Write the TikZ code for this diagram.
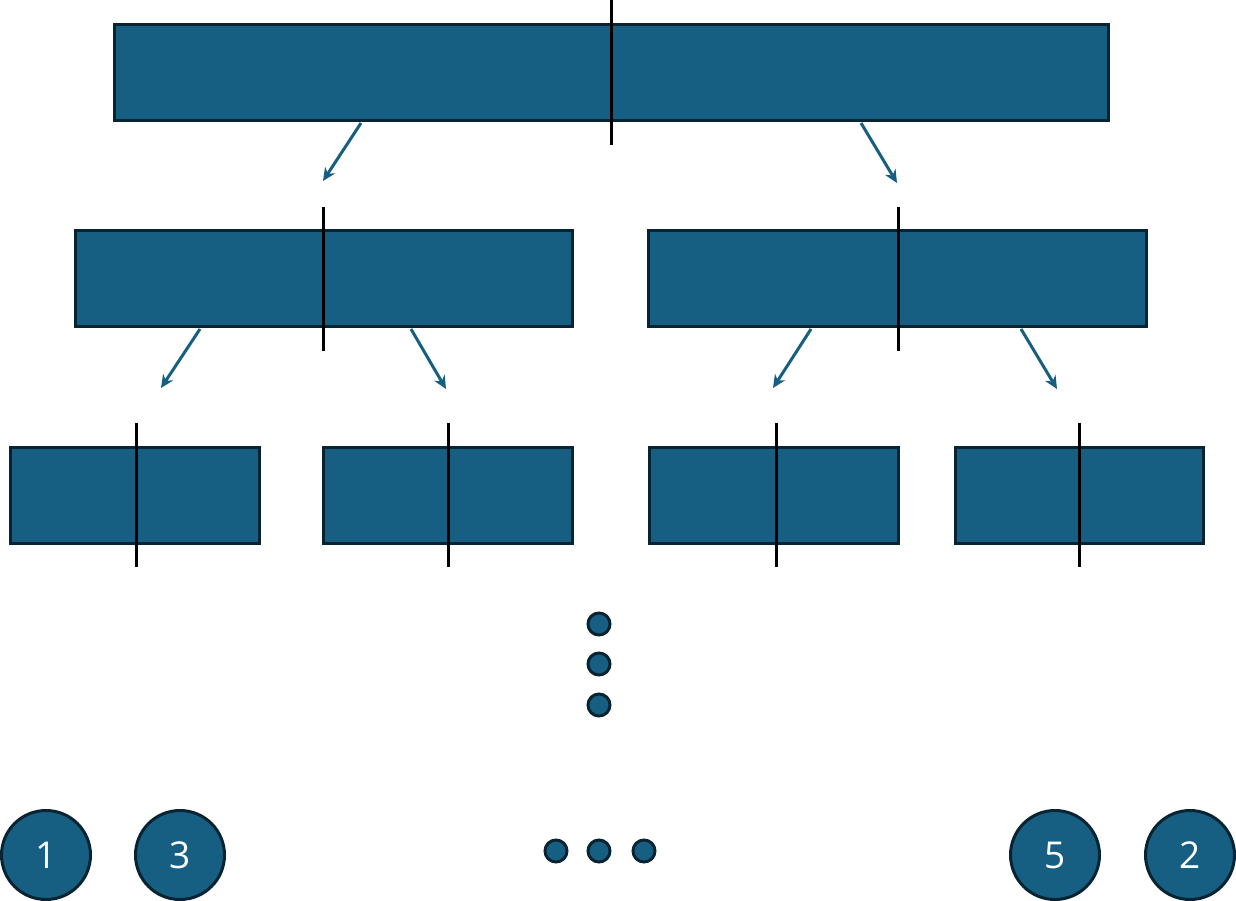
\documentclass[tikz,border=0pt]{standalone}
\usepackage{fontspec}
\setmainfont{Open Sans}
\usetikzlibrary{arrows.meta}
\definecolor{boxfill}{RGB}{23,95,130}
\definecolor{boxedge}{RGB}{8,36,50}
\begin{document}
\begin{tikzpicture}[x=1pt,y=-1pt,
  blk/.style={draw=boxedge,fill=boxfill,line width=3pt},
  divider/.style={draw=black,line width=3pt},
  arr/.style={draw=boxfill,line width=3pt,-{Stealth[length=13pt,width=12pt]}},
  dotnode/.style={circle,draw=boxedge,fill=boxfill,line width=3pt,minimum size=22pt,inner sep=0pt},
  leaf/.style={circle,draw=boxedge,fill=boxfill,line width=3pt,minimum size=89pt,inner sep=0pt,text=white,font=\fontsize{37}{40}\selectfont}]
\useasboundingbox (0,0) rectangle (1236,901);
% boxes
\path[blk] (114,25) rectangle (1108,121);
\path[blk] (75,231) rectangle (572,326);
\path[blk] (648,231) rectangle (1146,326);
\path[blk] (10,447) rectangle (259,543);
\path[blk] (323,447) rectangle (572,543);
\path[blk] (649,447) rectangle (898,543);
\path[blk] (955,447) rectangle (1203,543);
% dividers
\draw[divider] (611,0) -- (611,145);
\draw[divider] (323,207) -- (323,351);
\draw[divider] (898,207) -- (898,351);
\draw[divider] (136,423) -- (136,567);
\draw[divider] (448,423) -- (448,567);
\draw[divider] (776,423) -- (776,567);
\draw[divider] (1079,423) -- (1079,567);
% arrows
\coordinate (a1s) at (361,123); \coordinate (a1e) at (323,181);
\coordinate (a2s) at (861,123); \coordinate (a2e) at (897,183);
\coordinate (b1s) at (200,329); \coordinate (b1e) at (161,388);
\coordinate (b2s) at (411,329); \coordinate (b2e) at (446,389);
\coordinate (b3s) at (811,329); \coordinate (b3e) at (773,388);
\coordinate (b4s) at (1021,329); \coordinate (b4e) at (1057,389);
\draw[arr] (a1s) -- (a1e);
\draw[arr] (a2s) -- (a2e);
\draw[arr] (b1s) -- (b1e);
\draw[arr] (b2s) -- (b2e);
\draw[arr] (b3s) -- (b3e);
\draw[arr] (b4s) -- (b4e);
% dots
\node[dotnode] (v1) at (599,624) {};
\node[dotnode] (v2) at (599,664) {};
\node[dotnode] (v3) at (599,705) {};
\node[dotnode] (h1) at (556,851) {};
\node[dotnode] (h2) at (599,851) {};
\node[dotnode] (h3) at (644,851) {};
% leaves
\node[leaf] (l1) at (46,855) {1};
\node[leaf] (l3) at (180,855) {3};
\node[leaf] (l5) at (1055,855) {5};
\node[leaf] (l2) at (1190,855) {2};
\end{tikzpicture}
\end{document}
